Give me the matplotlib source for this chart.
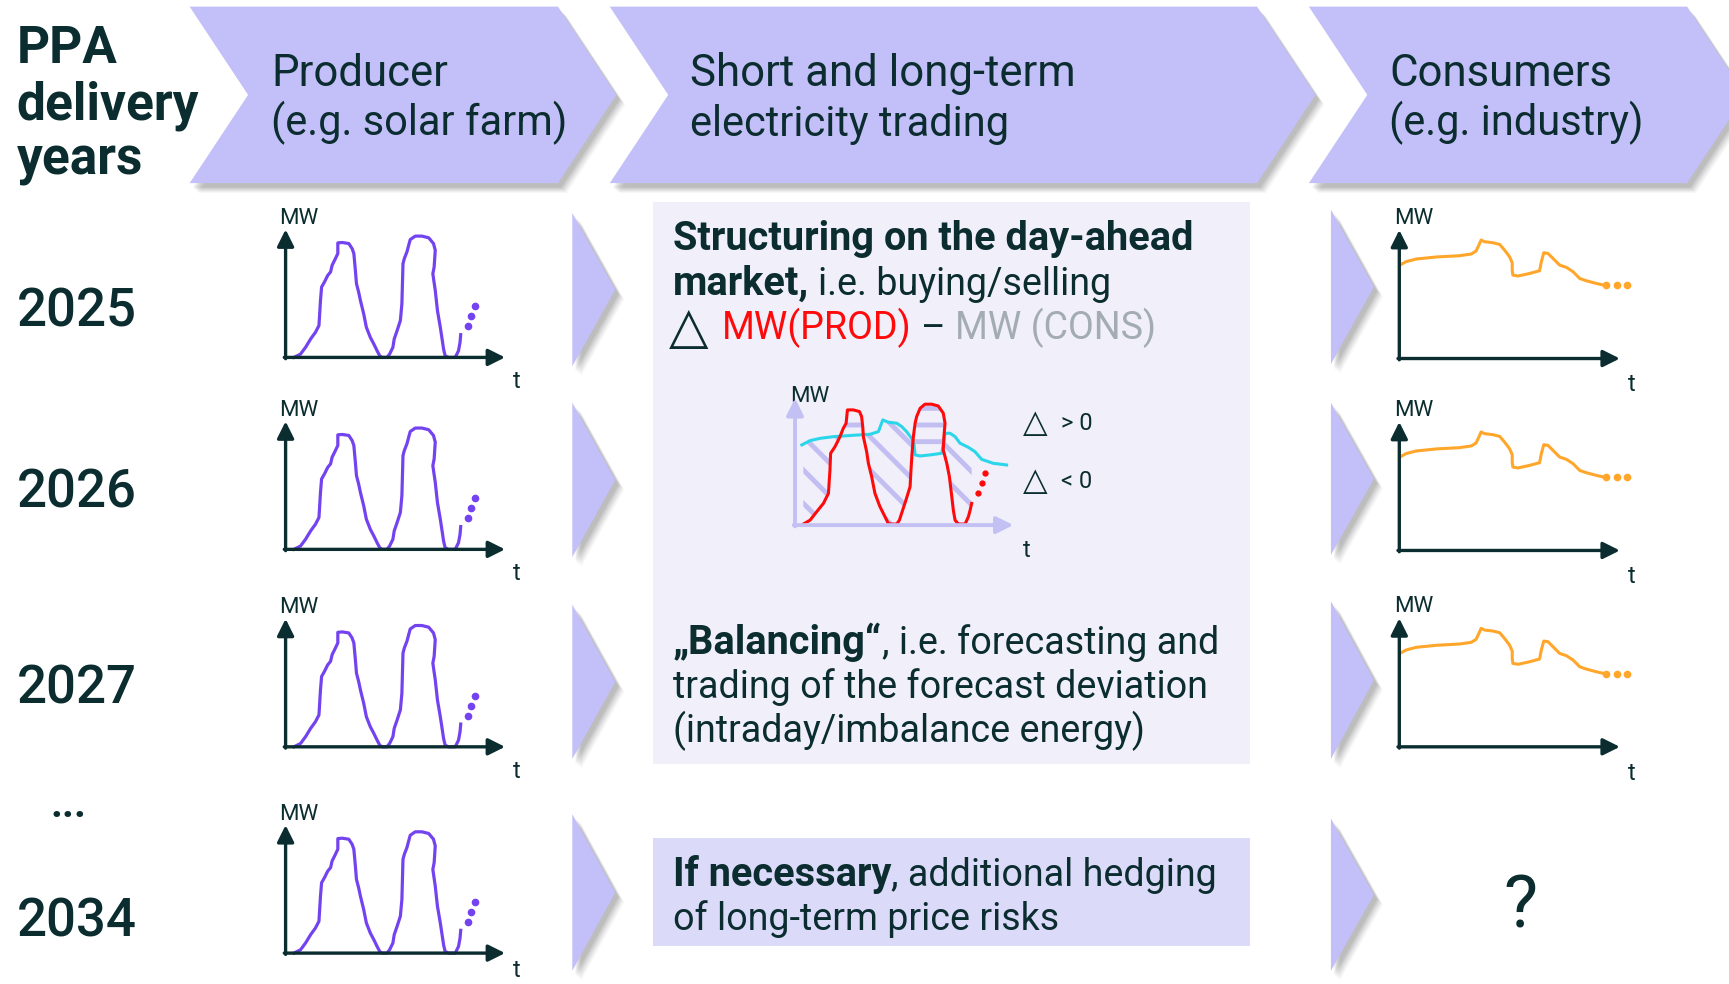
import numpy as np
import matplotlib
matplotlib.use("Agg")
import matplotlib.pyplot as plt
from matplotlib.patches import Polygon, Rectangle
from matplotlib import font_manager

# ------------------------------------------------------------------ data
header_left = ["PPA", "delivery", "years"]
stage_titles = [("Producer", "(e.g. solar farm)"),
                ("Short and long-term", "electricity trading"),
                ("Consumers", "(e.g. industry)")]
years = ["2025", "2026", "2027", "2034"]

# solar production profile: time in % of the window, MW in % of axis height
prod_t = [3.8, 6.8, 9.1, 11.4, 13.6, 15.2, 15.9, 16.4, 17.7, 19.2, 20.5, 21.2,
          22.7, 23.8, 23.8, 25.8, 28.8, 30.3, 31.1, 31.8, 32.3, 33.3, 34.1,
          35.6, 36.8, 38.6, 40.2, 41.7, 42.9, 43.9, 46.2, 47.4, 48.9, 49.5,
          50.8, 52.3, 53.0, 53.5, 54.1, 55.3, 56.1, 56.8, 59.1, 62.1, 65.2,
          67.4, 68.2, 67.7, 67.1, 68.2, 69.2, 70.5, 71.2, 72.0, 72.7, 74.2,
          77.3, 78.8, 79.5, 79.8]
prod_mw = [0, 2.6, 7.9, 14.4, 19.6, 24.9, 44.5, 55.0, 58.9, 64.1, 66.8, 72.0,
           77.2, 81.2, 89.5, 89.8, 89.0, 85.1, 81.2, 68.1, 57.6, 51.0, 44.5,
           34.0, 23.6, 15.7, 10.5, 5.2, 1.3, 0, 0, 2.6, 7.9, 14.4, 20.9, 28.8,
           41.9, 73.3, 77.2, 82.5, 87.7, 92.1, 94.8, 94.8, 93.5, 89.0, 83.8,
           70.7, 65.4, 52.4, 36.6, 23.6, 15.7, 6.5, 1.3, 0, 0, 5.2, 11.8, 17.8]
prod_more_t = [82.9, 84.5, 86.5]
prod_more_mw = [24.3, 32.2, 39.8]

# industrial consumption profile
cons_t = [0.3, 3.0, 7.6, 16.7, 27.3, 32.6, 34.8, 36.1, 37.1, 38.6, 42.4, 45.5,
          47.7, 50.0, 51.2, 51.2, 51.5, 53.8, 59.1, 63.6, 64.4, 65.5, 67.4,
          69.7, 72.7, 75.8, 78.8, 81.8, 84.8, 89.4, 93.2]
cons_mw = [72.7, 75.3, 77.4, 79.0, 80.0, 81.3, 83.6, 88.3, 92.2, 90.9, 90.1,
           88.8, 84.4, 79.2, 74.5, 68.8, 64.9, 64.2, 66.2, 68.3, 75.3, 82.3,
           81.8, 77.9, 72.7, 70.9, 67.5, 62.3, 60.5, 58.4, 56.9]
cons_more_t = [93.6, 98.5, 103.3]
cons_more_mw = [57.0, 57.0, 57.0]

# day-ahead structuring: production (red) vs. consumption (cyan)
dam_prod_t = [3.8, 6.9, 9.9, 13.0, 15.3, 16.0, 16.3, 18.3, 20.6, 22.1, 23.4,
              24.0, 26.7, 29.5, 30.5, 31.0, 31.3, 32.8, 33.6, 35.1, 36.6, 38.9,
              41.2, 42.7, 44.3, 46.6, 47.8, 49.3, 50.8, 52.7, 53.1, 53.6, 54.2,
              55.0, 55.7, 57.3, 59.5, 62.6, 65.6, 67.9, 68.7, 68.2, 67.9, 69.5,
              70.7, 71.8, 72.5, 73.3, 74.8, 77.9, 79.4, 80.2, 80.9]
dam_prod_mw = [0.8, 3.9, 10.5, 17.1, 25.0, 43.4, 56.6, 61.8, 69.7, 76.3, 80.3,
               90.8, 90.8, 89.5, 85.5, 77.6, 69.7, 57.9, 48.7, 38.2, 25.0, 14.5,
               6.6, 1.3, 0.8, 0.8, 3.9, 11.8, 19.7, 30.3, 43.4, 56.6, 69.7,
               80.3, 85.5, 92.1, 95.3, 95.3, 93.9, 88.2, 80.3, 69.7, 59.2, 48.7,
               38.2, 22.4, 11.8, 3.9, 0.8, 0.8, 6.6, 11.8, 17.1]
dam_prod_more_t = [84.0, 85.5, 87.0]
dam_prod_more_mw = [25.0, 32.9, 40.8]
dam_cons_t = [3.1, 6.9, 11.5, 17.6, 26.7, 34.4, 38.2, 40.2, 42.7, 46.6, 48.9,
              51.1, 53.4, 54.5, 55.0, 57.3, 61.8, 67.2, 68.7, 71.0, 73.3, 75.6,
              79.4, 82.4, 85.5, 90.8, 96.9]
dam_cons_mw = [63.2, 66.6, 68.4, 69.7, 70.8, 71.6, 73.7, 82.9, 81.1, 80.3, 77.6,
               73.7, 68.4, 63.2, 55.3, 54.5, 55.3, 56.6, 72.4, 72.4, 69.7, 64.5,
               61.3, 57.9, 51.8, 48.7, 47.4]

# ------------------------------------------------------------------ style
DARK = "#0b2d30"
LAV = "#c3bff8"
BOX1 = "#f0effa"
BOX2 = "#dcdaf9"
PURPLE = "#7443f0"
ORANGE = "#ffa62b"
RED = "#ff0a0a"
CYAN = "#2cd6ea"
GRAY = "#a3acb0"
AXIS_LAV = "#c3c0f4"
HATCH = "#c2bef2"

plt.rcParams["font.family"] = ["Roboto", "DejaVu Sans"]
plt.rcParams["hatch.linewidth"] = 3.5
plt.rcParams["hatch.color"] = HATCH

_rw = {str(f.weight).lower() for f in font_manager.fontManager.ttflist
       if f.name == "Roboto"}
MEDIUM = 500 if ("500" in _rw or "medium" in _rw) else "bold"

BODY = 27.1          # regular body text in the trading boxes
BODY_BOLD = dict(fontweight="bold", fontsize=28.6)

# layout units: the canvas is W x H units, y grows downwards
W, H = 1568.0, 892.0
fig = plt.figure(figsize=(17.29, 9.84), dpi=100)
fig.patch.set_facecolor("white")
ax = fig.add_axes([0, 0, 1, 1])
ax.set_xlim(0, W)
ax.set_ylim(H, 0)
ax.axis("off")
renderer = fig.canvas.get_renderer()
UNIT_PER_PX = W / fig.bbox.width


def shadowed_shape(pts, color, z=1):
    pts = np.asarray(pts, dtype=float)
    for dx, dy, al in [(8, 9, 0.04), (7, 8, 0.05), (6, 7, 0.06),
                       (5, 6, 0.07), (4, 5, 0.08), (3, 4, 0.08)]:
        ax.add_patch(Polygon(pts + [dx, dy], closed=True, fc="#3c3c3c",
                             ec="none", alpha=al, zorder=z))
    ax.add_patch(Polygon(pts, closed=True, fc=color, ec="none", zorder=z + 0.1))


def chevron(x_left, x_right, top=6, bottom=166, depth=53):
    mid = (top + bottom) / 2
    pts = [(x_left, top), (x_right, top), (x_right + depth, mid),
           (x_right, bottom), (x_left, bottom), (x_left + depth, mid)]
    shadowed_shape(pts, LAV)


def pointer(x0, x1, top, bottom):
    shadowed_shape([(x0, top), (x1, (top + bottom) / 2), (x0, bottom)], LAV)


def width_of(s, props):
    t = ax.text(0, 0, s, **props)
    w = t.get_window_extent(renderer).width * UNIT_PER_PX
    t.remove()
    return w


def runs(x, y, parts, size=BODY):
    cur = x
    for s, kw in parts:
        props = dict(fontsize=size, color=DARK, va="baseline", ha="left")
        props.update(kw)
        sp = width_of("a a", props) - width_of("aa", props)
        core = s.strip(" ")
        cur += (len(s) - len(s.lstrip(" "))) * sp
        if core:
            ax.text(cur, y, core, zorder=5, **props)
            cur += width_of(core, props)
        cur += (len(s) - len(s.rstrip(" "))) * sp


def inset(ox, oy, tx, ty):
    a = fig.add_axes([ox / W, 1 - oy / H, (tx - ox) / W, (oy - ty) / H])
    a.set_xlim(0, 100)
    a.set_ylim(0, 100)
    a.axis("off")
    return a


def axes_arrows(a, color, lw=2.4):
    style = dict(arrowstyle="-|>,head_length=0.46,head_width=0.23",
                 color=color, lw=lw, shrinkA=0, shrinkB=0, mutation_scale=22)
    a.annotate("", xy=(1, 0), xytext=(-0.006, 0), xycoords="axes fraction",
               arrowprops=style, annotation_clip=False)
    a.annotate("", xy=(0, 1), xytext=(0, -0.01), xycoords="axes fraction",
               arrowprops=style, annotation_clip=False)


# ------------------------------------------------------------------ header
chevron(172, 506)
chevron(553, 1140)
chevron(1187, 1530)

for (l1, l2), x in zip(stage_titles, [246, 626, 1260]):
    ax.text(x, 78, l1, fontsize=31.5, color=DARK, va="baseline", zorder=5)
    ax.text(x, 123, l2, fontsize=30, color=DARK, va="baseline", zorder=5)

for s, yb in zip(header_left, [57, 108, 158]):
    ax.text(15, yb, s, fontsize=37, fontweight="bold", color=DARK,
            va="baseline")

# ------------------------------------------------------------------ rows
for s, yb in zip(years, [296, 460, 638, 849]):
    ax.text(15, yb, s, fontsize=38, fontweight=MEDIUM, color=DARK,
            va="baseline")
ax.text(62, 741, "...", fontsize=30, fontweight="bold", color=DARK,
        ha="center", va="baseline")

for top, bot in [(193, 332), (365, 505), (548, 688), (738, 880)]:
    pointer(519, 558, top, bot)
for top, bot in [(190, 330), (365, 503), (545, 688), (742, 880)]:
    pointer(1207, 1246, top, bot)

# producer profiles
for i, oy in enumerate([324, 498, 677, 864]):
    a = inset(259, oy, 458, oy - 116)
    axes_arrows(a, DARK)
    a.plot(prod_t, prod_mw, color=PURPLE, lw=2.3, solid_joinstyle="round",
           clip_on=False)
    a.plot(prod_more_t, prod_more_mw, "o", ms=4.5, color=PURPLE, clip_on=False)
    ax.text(271, oy - 126, "MW", fontsize=16, color=DARK, ha="center",
            va="center")
    ty = min(oy + 22, 880)
    ax.text(469, ty, "t", fontsize=17, color=DARK, ha="center", va="center")

# consumer profiles
for oy in [325, 499, 677]:
    a = inset(1269, oy, 1469, oy - 116.5)
    axes_arrows(a, DARK)
    a.plot(cons_t, cons_mw, color=ORANGE, lw=2.2, solid_joinstyle="round",
           clip_on=False)
    a.plot(cons_more_t, cons_more_mw, "o", ms=4.5, color=ORANGE, clip_on=False)
    ax.text(1282, oy - 127, "MW", fontsize=16, color=DARK, ha="center",
            va="center")
    ax.text(1480, oy + 24, "t", fontsize=17, color=DARK, ha="center",
            va="center")

ax.text(1379, 841, "?", fontsize=52, color=DARK, ha="center", va="baseline")

# ------------------------------------------------------------------ trading
ax.add_patch(Rectangle((592, 183), 542, 510, fc=BOX1, ec="none", zorder=1))
ax.add_patch(Rectangle((592, 760), 542, 98, fc=BOX2, ec="none", zorder=1))

runs(610, 227, [("Structuring on the day-ahead", BODY_BOLD)])
runs(610, 267, [("market,", BODY_BOLD), (" i.e. buying/selling", {})])
ax.text(607, 311, "\u25b3", fontsize=37, color=DARK, va="baseline",
        family="DejaVu Sans", zorder=5)
runs(655, 307, [("MW(PROD)", dict(color=RED)), (" \u2013 ", {}),
                ("MW (CONS)", dict(color=GRAY))])

runs(610, 593, [("\u201eBalancing\u201c", BODY_BOLD),
                (", i.e. forecasting and", {})])
runs(610, 633, [("trading of the forecast deviation", {})])
runs(610, 673, [("(intraday/imbalance energy)", {})])

runs(610, 803, [("If necessary", BODY_BOLD), (", additional hedging", {})])
runs(610, 843, [("of long-term price risks", {})])

# day-ahead structuring sketch
d = inset(721, 476, 919, 361)
tg = np.linspace(max(dam_prod_t[0], dam_cons_t[0]), dam_prod_t[-1], 600)
red_i = np.interp(tg, np.maximum.accumulate(dam_prod_t), dam_prod_mw)
cyan_i = np.interp(tg, dam_cons_t, dam_cons_mw)
d.fill_between(tg, red_i, cyan_i, where=cyan_i >= red_i, interpolate=True,
               hatch="\\", facecolor="none", edgecolor=HATCH, linewidth=0)
d.fill_between(tg, red_i, cyan_i, where=red_i > cyan_i, interpolate=True,
               hatch="-", facecolor="none", edgecolor=HATCH, linewidth=0)
axes_arrows(d, AXIS_LAV, lw=2.8)
d.plot(dam_cons_t, dam_cons_mw, color=CYAN, lw=2.2, clip_on=False)
d.plot(dam_prod_t, dam_prod_mw, color=RED, lw=2.2, clip_on=False)
d.plot(dam_prod_more_t, dam_prod_more_mw, "o", ms=3.5, color=RED,
       clip_on=False)
ax.text(734, 359, "MW", fontsize=16, color=DARK, ha="center", va="center",
        zorder=6)
ax.text(931, 499, "t", fontsize=17, color=DARK, ha="center", va="center")

ax.text(928, 392, "\u25b3", fontsize=23, color=DARK, va="baseline",
        family="DejaVu Sans")
ax.text(962, 390, "> 0", fontsize=17, color=DARK, va="baseline")
ax.text(928, 444, "\u25b3", fontsize=23, color=DARK, va="baseline",
        family="DejaVu Sans")
ax.text(962, 442, "< 0", fontsize=17, color=DARK, va="baseline")

fig.savefig("out.png", dpi=100, facecolor="white")
